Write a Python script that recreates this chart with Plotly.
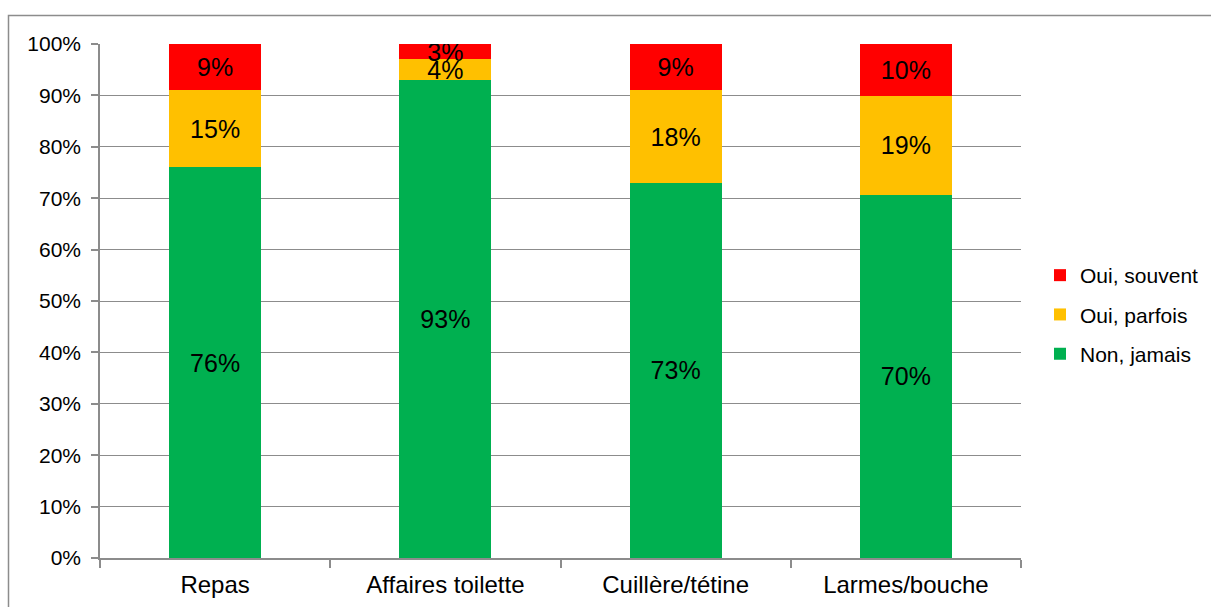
import plotly.graph_objects as go

categories = ["Repas", "Affaires toilette", "Cuillère/tétine", "Larmes/bouche"]
non_jamais = [76, 93, 73, 70]
oui_parfois = [15, 4, 18, 19]
oui_souvent = [9, 3, 9, 10]

# (name, values, colour, rank in legend)
series = [
    ("Non, jamais", non_jamais, "#00B050", 3),
    ("Oui, parfois", oui_parfois, "#FFC000", 2),
    ("Oui, souvent", oui_souvent, "#FF0000", 1),
]

FONT = "Liberation Sans, Arial, sans-serif"

fig = go.Figure()
for name, vals, color, rank in series:
    fig.add_trace(go.Bar(
        x=categories,
        y=vals,
        name=name,
        legendgroup=name,
        legendrank=rank,
        marker=dict(color=color, line=dict(width=0)),
        text=[f"{v}%" for v in vals],
        textposition="inside",
        insidetextanchor="middle",
        textangle=0,
        constraintext="none",
        textfont=dict(family=FONT, size=25, color="#000000"),
        width=0.4,
        hoverinfo="skip",
    ))

W, H = 1211, 607
ml, mr, mt, mb = 100, 190, 44, 49
pw, ph = W - ml - mr, H - mt - mb

def px_x(x):
    return (x - ml) / pw

def px_y(y):
    return 1 - (y - mt) / ph

fig.update_layout(
    width=W,
    height=H,
    barmode="stack",
    barnorm="percent",
    margin=dict(l=ml, r=mr, t=mt, b=mb, pad=0, autoexpand=False),
    paper_bgcolor="white",
    plot_bgcolor="white",
    font=dict(family=FONT, size=21, color="#000000"),
    showlegend=True,
    legend=dict(
        x=px_x(1040), y=px_y(255), xanchor="left", yanchor="top",
        traceorder="grouped",
        tracegroupgap=9,
        font=dict(family=FONT, size=21, color="#000000"),
        itemwidth=30,
        bgcolor="rgba(0,0,0,0)",
    ),
    xaxis=dict(
        showline=True, linecolor="#8c8c8c", linewidth=1.5,
        ticks="outside", ticklen=8, tickcolor="#8c8c8c", tickwidth=1.5,
        tickson="boundaries",
        showgrid=False,
        ticklabelstandoff=4,
        tickfont=dict(family=FONT, size=24, color="#000000"),
        range=[-0.5, 3.5],
    ),
    yaxis=dict(
        range=[0, 100],
        dtick=10,
        ticksuffix="%",
        showline=True, linecolor="#8c8c8c", linewidth=1.5,
        ticks="outside", ticklen=7, tickcolor="#8c8c8c", tickwidth=1.5,
        showgrid=True, gridcolor="#8c8c8c", gridwidth=1,
        zeroline=False,
        ticklabelstandoff=6,
        tickfont=dict(family=FONT, size=21, color="#000000"),
    ),
    shapes=[dict(
        type="rect", xref="paper", yref="paper",
        x0=px_x(8.5), x1=px_x(1230), y0=px_y(625), y1=px_y(15.5),
        line=dict(color="#8c8c8c", width=1.5),
        fillcolor="rgba(0,0,0,0)",
        layer="below",
    )],
)

fig.write_html("out.html")
